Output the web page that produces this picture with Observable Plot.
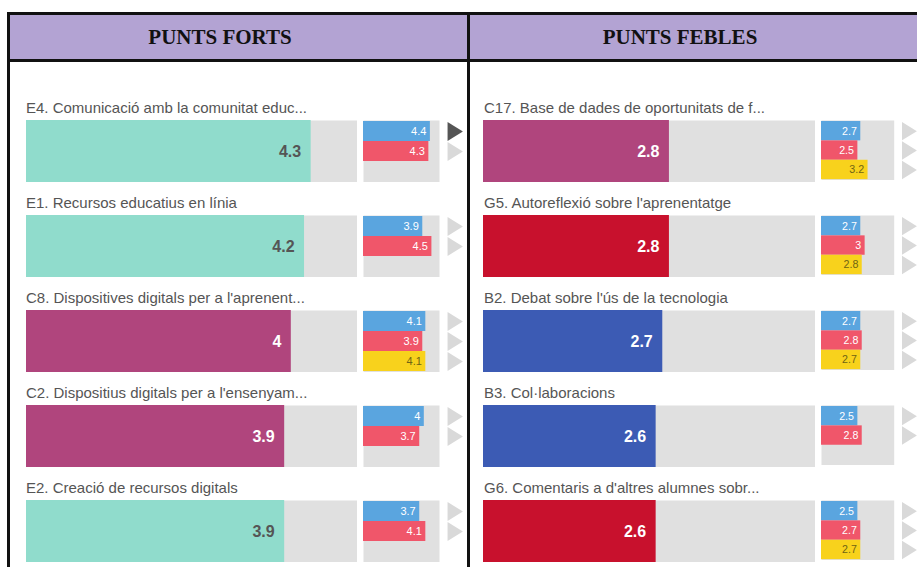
<!DOCTYPE html>
<html>
<head>
<meta charset="utf-8">
<script src="https://cdn.jsdelivr.net/npm/d3@7"></script>
<script src="https://cdn.jsdelivr.net/npm/@observablehq/plot@0.6"></script>
<style>
  html, body { margin: 0; padding: 0; background: #fff; }
  #root { position: relative; width: 917px; height: 567px; overflow: hidden; background: #fff; font-family: "Liberation Sans", Arial, sans-serif; }
  .line { position: absolute; background: #111; }
  .header { position: absolute; background: #b3a3d3; }
  .htext { position: absolute; font-family: "Liberation Serif", "Times New Roman", serif; font-weight: bold; font-size: 21px; color: #111; transform: translateX(-50%); white-space: nowrap; line-height: 24px; }
  .label { position: absolute; font-size: 15px; line-height: 17px; color: #555; white-space: nowrap; }
  .cell { position: absolute; }
</style>
</head>
<body>
<div id="root"></div>
<script>
// ---- data ----
const series = ["Equip directiu", "Docents", "Alumnes"];
const seriesColors = ["#5aa5df", "#f0566a", "#f8d21c"];

const areas = ["B", "C", "E", "G"];
const areaColors = ["#3c5bb4", "#b0457d", "#90dccc", "#c8112d"];

const panelTitles = ["PUNTS FORTS", "PUNTS FEBLES"];

const fortsItems = [
  "E4. Comunicació amb la comunitat educ...",
  "E1. Recursos educatius en línia",
  "C8. Dispositives digitals per a l'aprenent...",
  "C2. Dispositius digitals per a l'ensenyam...",
  "E2. Creació de recursos digitals"
];
const fortsValues = [4.3, 4.2, 4, 3.9, 3.9];
const fortsDirectiu = [4.4, 3.9, 4.1, 4, 3.7];
const fortsDocents = [4.3, 4.5, 3.9, 3.7, 4.1];
const fortsAlumnes = [null, null, 4.1, null, null];

const feblesItems = [
  "C17. Base de dades de oportunitats de f...",
  "G5. Autoreflexió sobre l'aprenentatge",
  "B2. Debat sobre l'ús de la tecnologia",
  "B3. Col·laboracions",
  "G6. Comentaris a d'altres alumnes sobr..."
];
const feblesValues = [2.8, 2.8, 2.7, 2.6, 2.6];
const feblesDirectiu = [2.7, 2.7, 2.7, 2.5, 2.5];
const feblesDocents = [2.5, 3, 2.8, 2.8, 2.7];
const feblesAlumnes = [3.2, 2.8, 2.7, null, 2.7];

const highlightedArrow = { item: "E4. Comunicació amb la comunitat educ...", series: "Equip directiu" };

// ---- layout ----
const root = document.getElementById("root");
function div(cls, css, text) {
  const d = document.createElement("div");
  d.className = cls;
  Object.assign(d.style, css);
  if (text != null) d.textContent = text;
  root.appendChild(d);
  return d;
}

// header & frame
div("header", { left: "10px", top: "15px", width: "907px", height: "44px" });
div("line", { left: "7px", top: "12px", width: "910px", height: "3px" });
div("line", { left: "7px", top: "59px", width: "910px", height: "3px" });
div("line", { left: "7px", top: "12px", width: "3px", height: "555px" });
div("line", { left: "467px", top: "12px", width: "3px", height: "555px" });
div("htext", { left: "220px", top: "25px" }, panelTitles[0]);
div("htext", { left: "680px", top: "25px" }, panelTitles[1]);

const rightTriangle = {
  draw(ctx, size) {
    const a = Math.sqrt(size / Math.PI);
    ctx.moveTo(-0.95 * a, -1.3 * a);
    ctx.lineTo(1.15 * a, 0);
    ctx.lineTo(-0.95 * a, 1.3 * a);
    ctx.closePath();
  }
};

const fontFamily = "'Liberation Sans', Arial, sans-serif";

function bigPlot(row, width) {
  return Plot.plot({
    width, height: 62, margin: 0,
    style: { fontFamily, background: "transparent" },
    x: { domain: [0, 5], axis: null },
    color: { domain: areas, range: areaColors },
    marks: [
      Plot.frame({ fill: "#e0e0e0", stroke: "none" }),
      Plot.barX([row], { x: "value", fill: "area" }),
      Plot.text([row], {
        x: "value", text: d => String(d.value), textAnchor: "end", dx: -10,
        frameAnchor: "middle", fontSize: 16, fontWeight: "bold",
        fill: row.area === "E" ? "#555" : "#fff"
      })
    ]
  });
}

function smallPlot(rows, trackWidth) {
  return Plot.plot({
    width: trackWidth + 24, height: 62, margin: 0, marginRight: 24,
    style: { fontFamily, background: "transparent" },
    x: { domain: [0, 5], axis: null },
    y: { domain: series, axis: null, padding: 0 },
    color: { domain: series, range: seriesColors },
    marks: [
      Plot.frame({ fill: "#e0e0e0", stroke: "none" }),
      Plot.barX(rows, { x: "value", y: "series", fill: "series" }),
      Plot.text(rows, {
        filter: d => d.series !== "Alumnes",
        x: "value", y: "series", text: d => String(d.value), textAnchor: "end", dx: -4,
        fontSize: 11, fill: "#fff"
      }),
      Plot.text(rows, {
        filter: d => d.series === "Alumnes",
        x: "value", y: "series", text: d => String(d.value), textAnchor: "end", dx: -4,
        fontSize: 11, fill: "#6f6414"
      }),
      Plot.dot(rows, {
        filter: d => !d.active,
        y: "series", frameAnchor: "right", dx: 15, r: 7.3, symbol: rightTriangle,
        fill: "#d9d9d9", stroke: "none"
      }),
      Plot.dot(rows, {
        filter: d => d.active,
        y: "series", frameAnchor: "right", dx: 15, r: 7.3, symbol: rightTriangle,
        fill: "#555", stroke: "none"
      })
    ]
  });
}

function panel(items, values, dir, doc, alu, geo) {
  items.forEach((item, i) => {
    const top = 120 + 95 * i;
    div("label", { left: geo.labelX + "px", top: (top - 21) + "px" }, item);
    const row = { item, area: item.split(/\d/)[0], value: values[i] };
    const big = div("cell", { left: geo.bigX + "px", top: top + "px" });
    big.appendChild(bigPlot(row, geo.bigW));
    const vals = [dir[i], doc[i], alu[i]];
    const rows = series.map((s, j) => ({
      series: s, value: vals[j],
      active: highlightedArrow.item === item && highlightedArrow.series === s
    })).filter(d => d.value != null);
    const small = div("cell", { left: geo.smallX + "px", top: top + "px" });
    small.appendChild(smallPlot(rows, geo.smallW));
  });
}

panel(fortsItems, fortsValues, fortsDirectiu, fortsDocents, fortsAlumnes,
  { labelX: 26, bigX: 26, bigW: 331, smallX: 363, smallW: 76 });
panel(feblesItems, feblesValues, feblesDirectiu, feblesDocents, feblesAlumnes,
  { labelX: 484, bigX: 483, bigW: 332, smallX: 821, smallW: 75 });
</script>
</body>
</html>
